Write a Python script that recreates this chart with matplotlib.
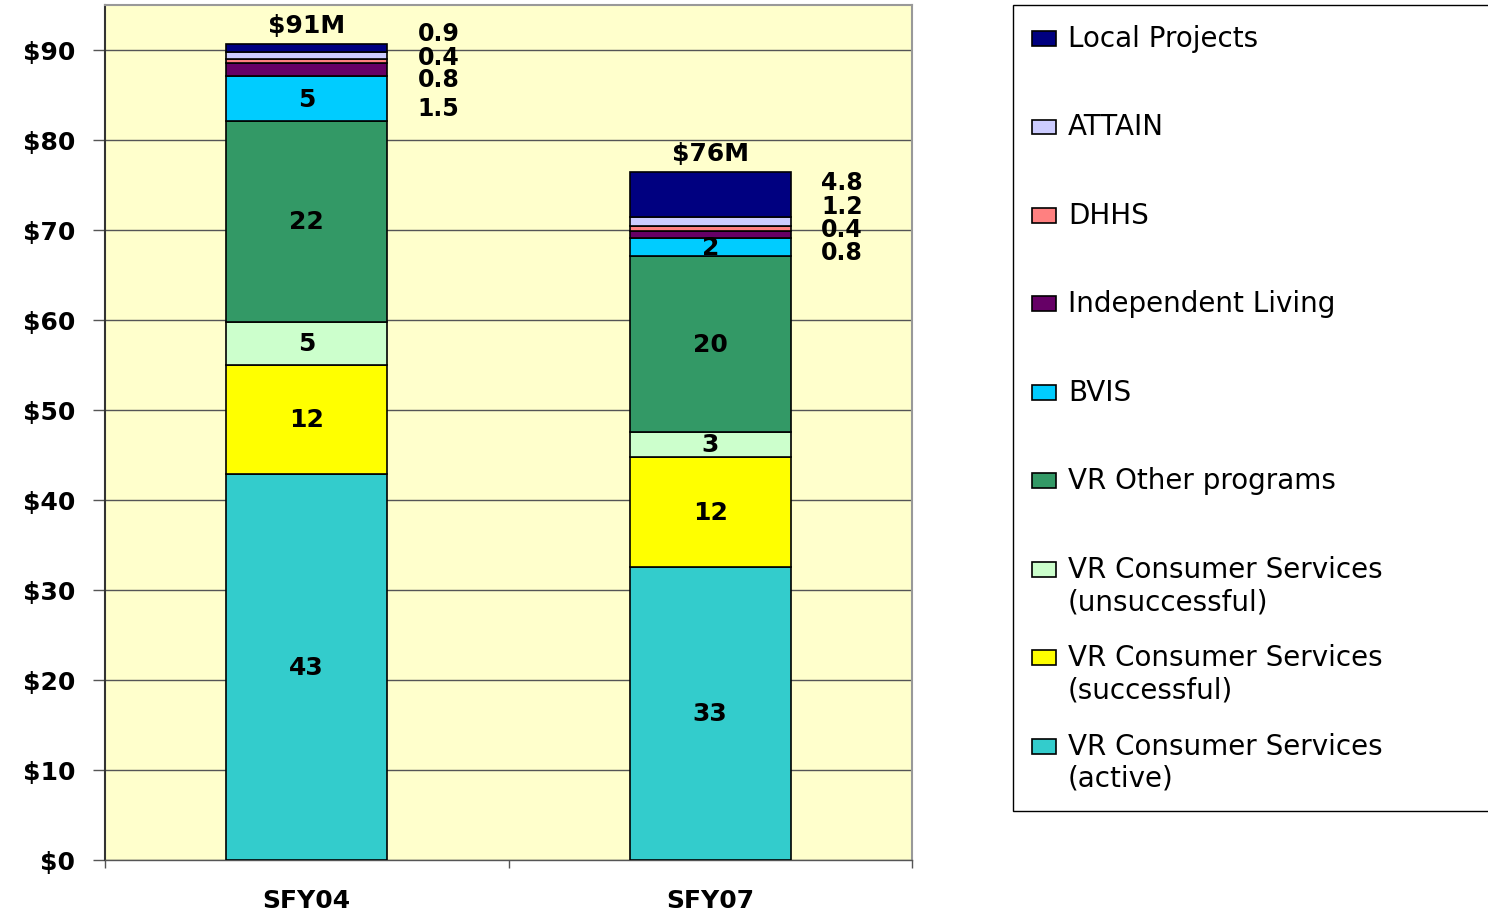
import numpy as np
import matplotlib.pyplot as plt
from matplotlib.patches import Rectangle
from matplotlib.legend_handler import HandlerPatch
from matplotlib.ticker import StrMethodFormatter

plt.rcParams['font.family'] = ['DejaVu Sans']

years = ['SFY04', 'SFY07']

# stacked bottom -> top
series = ['VR Consumer Services\n(active)',
          'VR Consumer Services\n(successful)',
          'VR Consumer Services\n(unsuccessful)',
          'VR Other programs',
          'BVIS',
          'Independent Living',
          'DHHS',
          'ATTAIN',
          'Local Projects']
colors = ['#33CCCC', '#FFFF00', '#CCFFCC', '#339966', '#00CCFF',
          '#660066', '#FF8080', '#CCCCFF', '#000080']

active = [42.9, 32.6]
successful = [12.1, 12.2]
unsuccessful = [4.8, 2.8]
vr_other = [22.3, 19.5]
bvis = [5.0, 2.0]
indep_living = [1.5, 0.75]
dhhs = [0.45, 0.55]
attain = [0.75, 1.0]
local_proj = [0.9, 5.0]

values = [active, successful, unsuccessful, vr_other, bvis,
          indep_living, dhhs, attain, local_proj]

inside_labels = [['43', '33'], ['12', '12'], ['5', '3'], ['22', '20'], ['5', '2']]
totals = ['$91M', '$76M']
side_labels = [['0.9', '0.4', '0.8', '1.5'], ['4.8', '1.2', '0.4', '0.8']]
side_label_y = [[91.9, 89.2, 86.8, 83.6], [75.3, 72.7, 70.1, 67.6]]

fig = plt.figure(figsize=(14.88, 9.12), dpi=100)
ax = fig.add_axes([105 / 1488, 51 / 912, 807 / 1488, 855 / 912])
ax.set_facecolor('#FFFFCC')

x = np.arange(len(years))
bottom = np.zeros(len(years))
containers = []
for name, vals, col in zip(series, values, colors):
    c = ax.bar(x, vals, 0.4, bottom=bottom, color=col, edgecolor='black',
               linewidth=1.2, label=name, zorder=3)
    containers.append(c)
    bottom = bottom + np.array(vals)

for c, labs in zip(containers, inside_labels):
    ax.bar_label(c, labels=labs, label_type='center', fontsize=18,
                 fontweight='bold', color='black')
ax.bar_label(containers[-1], labels=totals, padding=5, fontsize=18,
             fontweight='bold')

for i in range(len(years)):
    for lab, yy in zip(side_labels[i], side_label_y[i]):
        ax.text(x[i] + 0.275, yy, lab, ha='left', va='center', fontsize=17,
                fontweight='bold')

ax.set_xlim(-0.5, 1.5)
ax.set_ylim(0, 95)
ax.set_yticks(np.arange(0, 91, 10))
ax.yaxis.set_major_formatter(StrMethodFormatter('${x:.0f}'))
ax.yaxis.grid(True, color='#555555', linewidth=1)
ax.set_axisbelow(True)

ax.set_xticks([-0.5, 0.5, 1.5])
ax.set_xticklabels([])
ax.set_xticks(x, minor=True)
ax.set_xticklabels(years, minor=True)
ax.tick_params(axis='x', which='major', length=6, width=1, color='#555555',
               direction='out')
ax.tick_params(axis='x', which='minor', length=0, pad=20, labelsize=18)
ax.tick_params(axis='y', length=8.6, width=1, color='#555555', pad=13,
               labelsize=18)
for t in ax.get_yticklabels() + ax.get_xticklabels(minor=True):
    t.set_fontweight('bold')

ax.spines['left'].set_color('#333333')
ax.spines['left'].set_linewidth(1.5)
ax.spines['bottom'].set_color('#555555')
ax.spines['bottom'].set_linewidth(1)
for s in ['top', 'right']:
    ax.spines[s].set_color('#999999')
    ax.spines[s].set_linewidth(1.5)


def top_patch(legend, orig_handle, xdescent, ydescent, width, height, fontsize):
    # put the swatch next to the first line of the label
    return Rectangle((-xdescent, -ydescent + 0.6 * fontsize), width, height)


handles = [c.patches[0] for c in containers[::-1]]
labels = [s if '\n' in s else s + '\n ' for s in series[::-1]]
leg = fig.legend(handles, labels, loc='upper left',
                 bbox_to_anchor=(1013 / 1488, 0.1, 0.34, 0.8934),
                 mode='expand', borderaxespad=0, fontsize=20,
                 handlelength=0.85, handleheight=0.45, handletextpad=0.45,
                 labelspacing=1.01, borderpad=0.68, fancybox=False,
                 framealpha=1, edgecolor='black',
                 handler_map={Rectangle: HandlerPatch(patch_func=top_patch)})
leg.get_frame().set_linewidth(1)

fig.savefig('out.png', dpi=100)
